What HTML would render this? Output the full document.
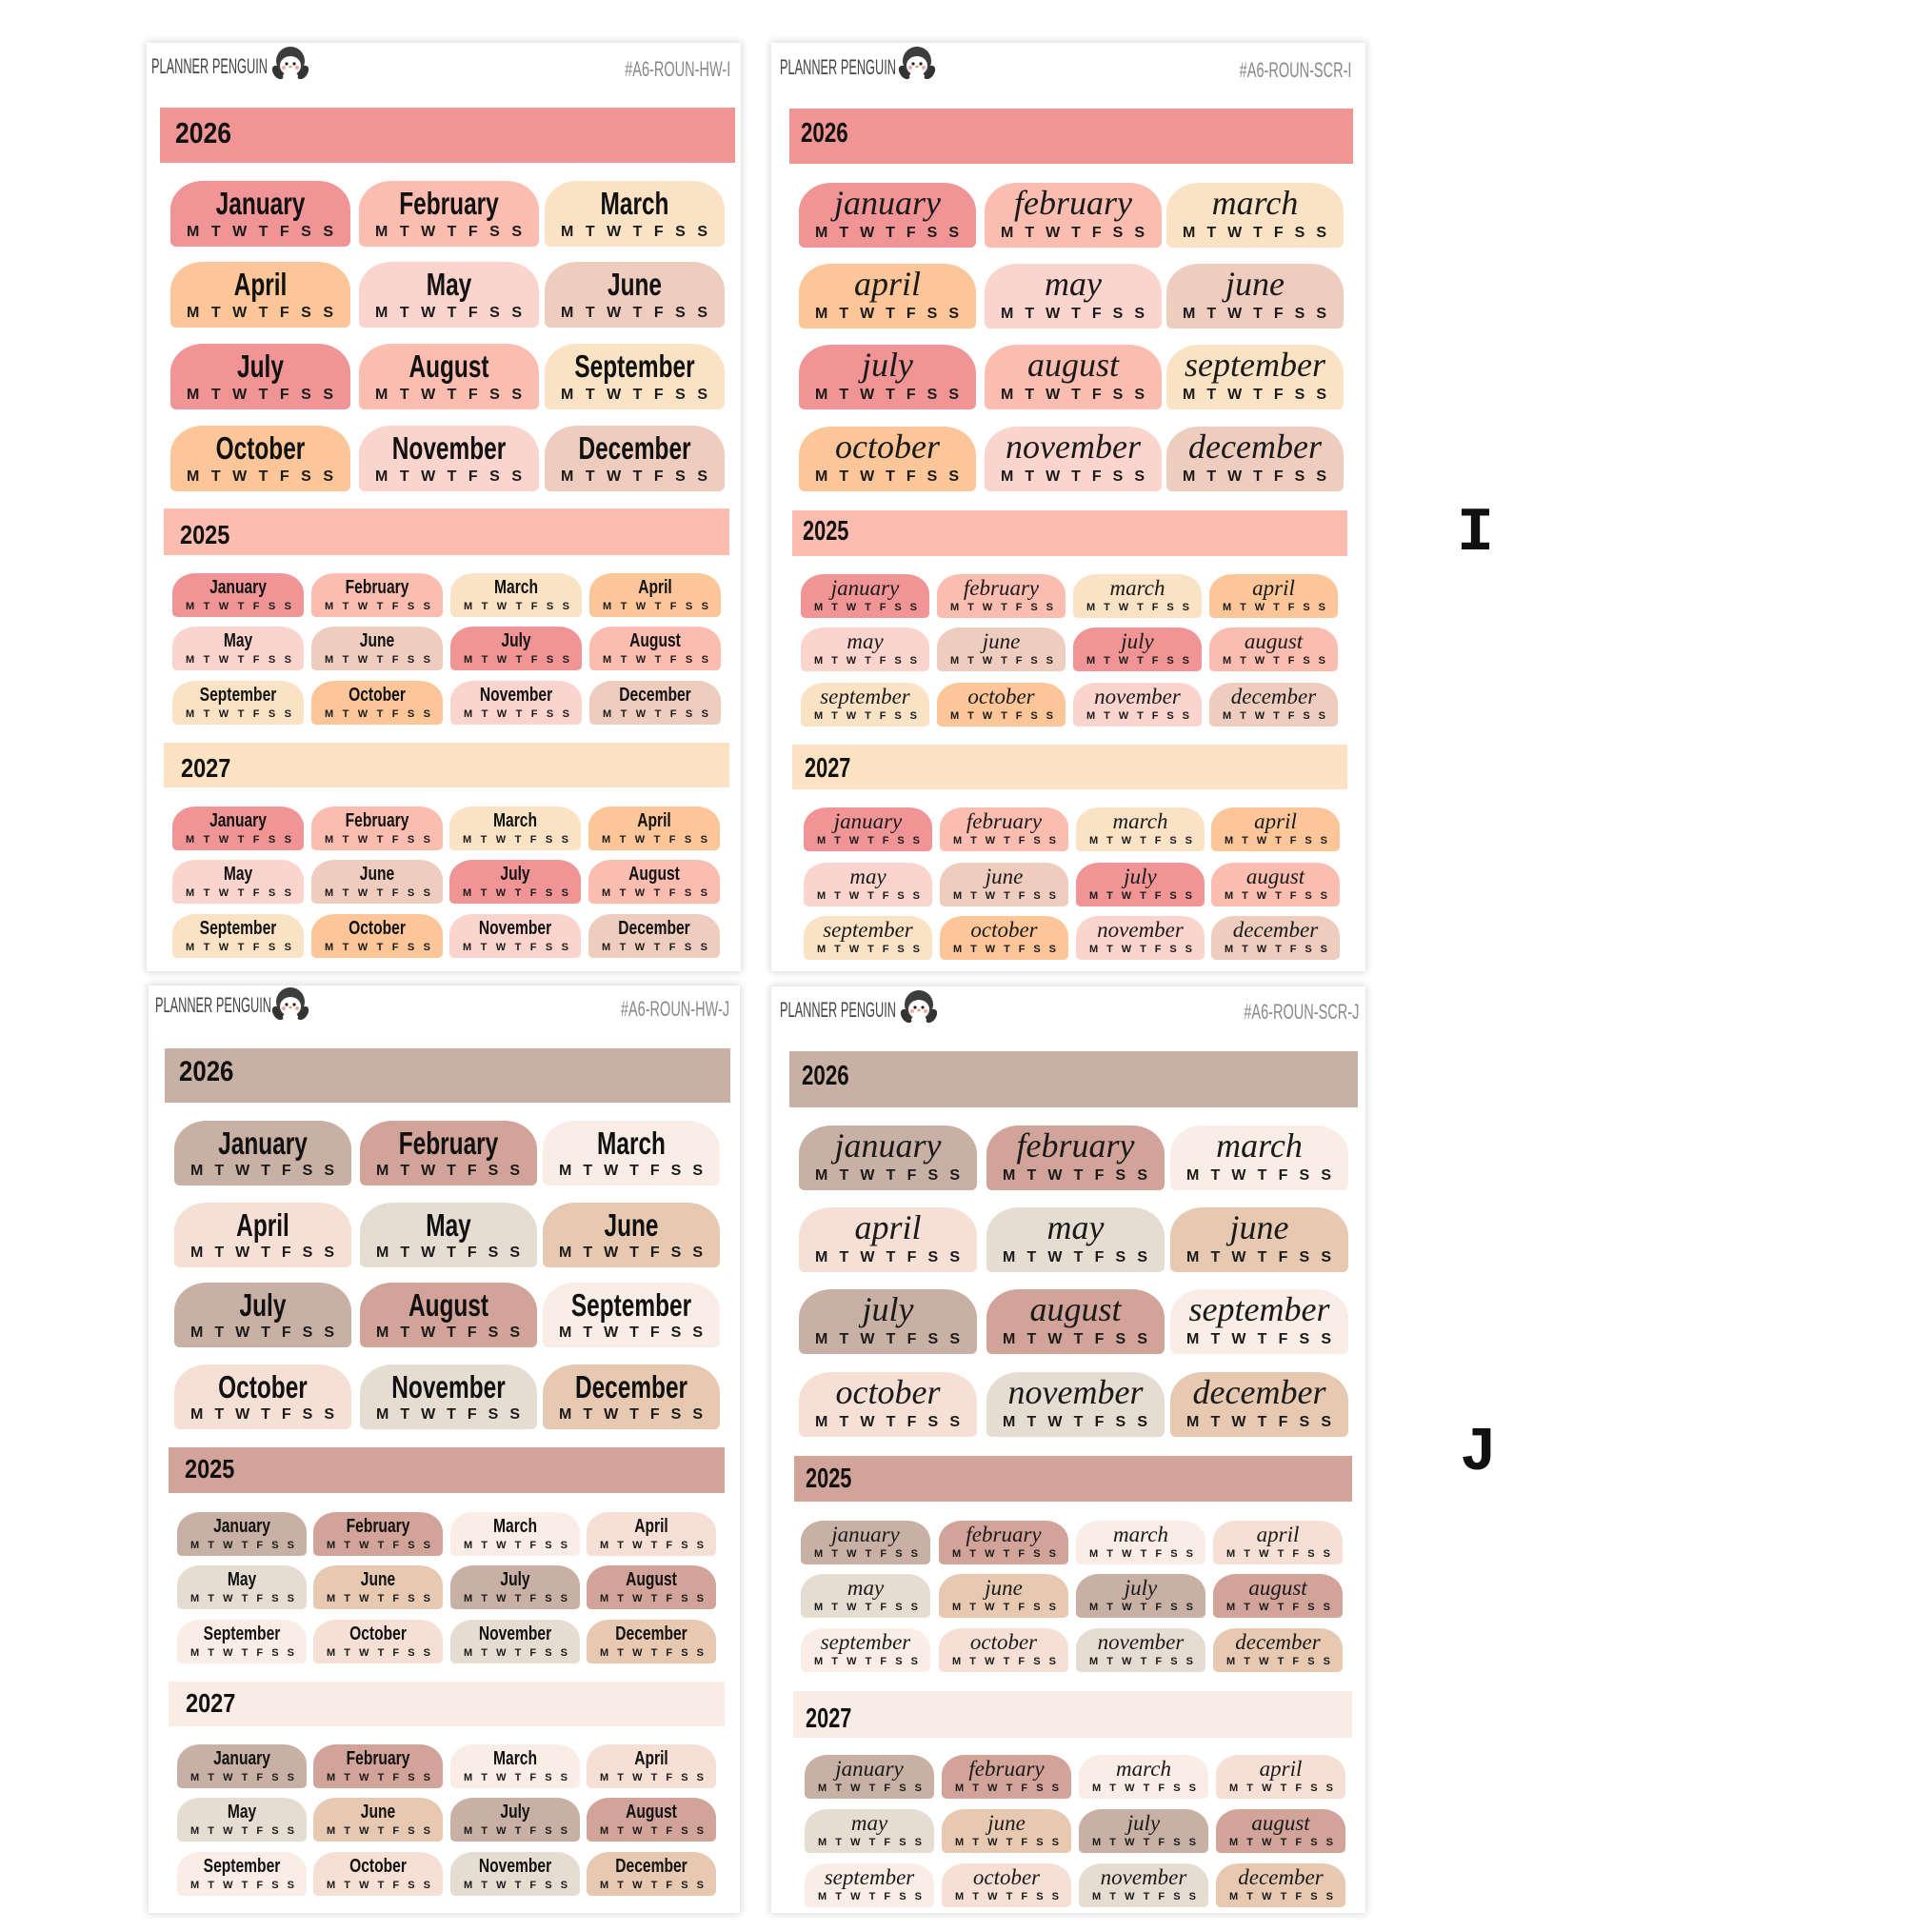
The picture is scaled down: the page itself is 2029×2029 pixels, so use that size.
<!DOCTYPE html>
<html><head><meta charset="utf-8">
<style>
*{box-sizing:border-box}
body{margin:0;width:2029px;height:2029px;background:#fff;position:relative;overflow:hidden;font-family:"Liberation Sans",sans-serif}
.p{position:absolute;background:#fff;box-shadow:0 0 8px 1px rgba(0,0,0,.16)}
.g{position:absolute;left:0;top:0}
.B,.S,.bn{position:absolute}
.B{border-radius:34px 34px 6px 6px/30px 30px 6px 6px}
.S{border-radius:24px 24px 5px 5px/21px 21px 5px 5px}
.B i,.S i{position:absolute;left:0;right:0;text-align:center;font-style:normal;white-space:nowrap;color:#111;font-weight:bold}
.B i{top:5px;font-size:33px;line-height:38px;transform:scaleX(.74)}
.S i{top:4px;font-size:20px;line-height:22px;transform:scaleX(.78)}
.s .B i{font-family:"Liberation Serif",serif;font-style:italic;font-weight:normal;transform:none;font-size:36px;top:2px;color:#1a1a1a}
.s .S i{font-family:"Liberation Serif",serif;font-style:italic;font-weight:normal;transform:none;font-size:23px;line-height:24px;top:3px;color:#1a1a1a}
.B u,.S u{position:absolute;text-decoration:none;text-align:justify;text-align-last:justify;font-weight:bold;color:#1a1a1a}
.B u{left:17px;right:18px;bottom:7px;font-size:16px;line-height:16px}
.S u{left:14px;right:13px;bottom:5px;font-size:11px;line-height:11px}
.bn span{position:absolute;line-height:1;color:#111;transform-origin:left top;white-space:nowrap;font-weight:bold}
.brand{position:absolute;font-size:22px;line-height:1;color:#444;transform:scaleX(.58);transform-origin:left top;white-space:nowrap}
.code{position:absolute;font-size:22px;line-height:1;color:#888;transform:scaleX(.66);transform-origin:right top;white-space:nowrap}
.peng{position:absolute;width:40px;height:38px}
.let{position:absolute;font-family:"Liberation Mono",monospace;font-weight:bold;font-size:65px;line-height:1;color:#111}
.a1{background:#f09495}.a2{background:#fbbdb0}.a3{background:#fae3c4}.a4{background:#fcc698}.a5{background:#fbd4cd}.a6{background:#efcdbe}
.b1{background:#c8b1a4}.b2{background:#d2a398}.b3{background:#f9ede6}.b4{background:#f6e0d5}.b5{background:#e6ddd2}.b6{background:#e7c9b1}
.g1 .B{width:189px;height:69px}.g1 .S{width:138px;height:46px}
.g2 .B{width:186px;height:68px}.g2 .S{width:135px;height:46px}
.g3 .B{width:186px;height:68px}.g3 .S{width:136px;height:46px}
.g4 .B{width:187px;height:68px}.g4 .S{width:136px;height:46px}
</style></head><body>

<!-- panels -->
<div class="p" style="left:154px;top:45px;width:624px;height:975px"></div>
<div class="p" style="left:810px;top:45px;width:624px;height:975px"></div>
<div class="p" style="left:156px;top:1035px;width:621px;height:974px"></div>
<div class="p" style="left:810px;top:1036px;width:624px;height:973px"></div>

<!-- headers -->
<div class="brand" style="left:159px;top:59px">PLANNER PENGUIN</div>
<div class="code" style="right:1262px;top:62px">#A6-ROUN-HW-I</div>
<div class="brand" style="left:819px;top:60px">PLANNER PENGUIN</div>
<div class="code" style="right:610px;top:63px">#A6-ROUN-SCR-I</div>
<div class="brand" style="left:163px;top:1045px">PLANNER PENGUIN</div>
<div class="code" style="right:1263px;top:1049px">#A6-ROUN-HW-J</div>
<div class="brand" style="left:819px;top:1050px">PLANNER PENGUIN</div>
<div class="code" style="right:602px;top:1052px">#A6-ROUN-SCR-J</div>

<svg class="peng" style="left:285px;top:47px" viewBox="0 0 40 38"><ellipse cx="7" cy="29" rx="5" ry="8" fill="#333" transform="rotate(-35 7 29)"/><ellipse cx="33" cy="29" rx="5" ry="8" fill="#333" transform="rotate(35 33 29)"/><circle cx="20" cy="17" r="15" fill="#3d3d3d"/><ellipse cx="20" cy="22" rx="11" ry="10" fill="#fff"/><ellipse cx="20" cy="33" rx="8" ry="4" fill="#fff"/><circle cx="16" cy="20" r="1.6" fill="#222"/><circle cx="24" cy="20" r="1.6" fill="#222"/><circle cx="13" cy="24" r="2" fill="#f4a6a6"/><circle cx="27" cy="24" r="2" fill="#f4a6a6"/><ellipse cx="20" cy="23" rx="1.8" ry="1.2" fill="#e8a060"/></svg>
<svg class="peng" style="left:943px;top:47px" viewBox="0 0 40 38"><ellipse cx="7" cy="29" rx="5" ry="8" fill="#333" transform="rotate(-35 7 29)"/><ellipse cx="33" cy="29" rx="5" ry="8" fill="#333" transform="rotate(35 33 29)"/><circle cx="20" cy="17" r="15" fill="#3d3d3d"/><ellipse cx="20" cy="22" rx="11" ry="10" fill="#fff"/><ellipse cx="20" cy="33" rx="8" ry="4" fill="#fff"/><circle cx="16" cy="20" r="1.6" fill="#222"/><circle cx="24" cy="20" r="1.6" fill="#222"/><circle cx="13" cy="24" r="2" fill="#f4a6a6"/><circle cx="27" cy="24" r="2" fill="#f4a6a6"/><ellipse cx="20" cy="23" rx="1.8" ry="1.2" fill="#e8a060"/></svg>
<svg class="peng" style="left:285px;top:1035px" viewBox="0 0 40 38"><ellipse cx="7" cy="29" rx="5" ry="8" fill="#333" transform="rotate(-35 7 29)"/><ellipse cx="33" cy="29" rx="5" ry="8" fill="#333" transform="rotate(35 33 29)"/><circle cx="20" cy="17" r="15" fill="#3d3d3d"/><ellipse cx="20" cy="22" rx="11" ry="10" fill="#fff"/><ellipse cx="20" cy="33" rx="8" ry="4" fill="#fff"/><circle cx="16" cy="20" r="1.6" fill="#222"/><circle cx="24" cy="20" r="1.6" fill="#222"/><circle cx="13" cy="24" r="2" fill="#f4a6a6"/><circle cx="27" cy="24" r="2" fill="#f4a6a6"/><ellipse cx="20" cy="23" rx="1.8" ry="1.2" fill="#e8a060"/></svg>
<svg class="peng" style="left:945px;top:1038px" viewBox="0 0 40 38"><ellipse cx="7" cy="29" rx="5" ry="8" fill="#333" transform="rotate(-35 7 29)"/><ellipse cx="33" cy="29" rx="5" ry="8" fill="#333" transform="rotate(35 33 29)"/><circle cx="20" cy="17" r="15" fill="#3d3d3d"/><ellipse cx="20" cy="22" rx="11" ry="10" fill="#fff"/><ellipse cx="20" cy="33" rx="8" ry="4" fill="#fff"/><circle cx="16" cy="20" r="1.6" fill="#222"/><circle cx="24" cy="20" r="1.6" fill="#222"/><circle cx="13" cy="24" r="2" fill="#f4a6a6"/><circle cx="27" cy="24" r="2" fill="#f4a6a6"/><ellipse cx="20" cy="23" rx="1.8" ry="1.2" fill="#e8a060"/></svg>

<!-- banners -->
<div class="bn" style="left:168px;top:113px;width:604px;height:58px;background:#f09494"><span style="left:16px;top:11px;font-size:31px;transform:scaleX(.855)">2026</span></div>
<div class="bn" style="left:172px;top:534px;width:594px;height:49px;background:#fcbdb0"><span style="left:17px;top:14px;font-size:28px;transform:scaleX(.84)">2025</span></div>
<div class="bn" style="left:172px;top:780px;width:594px;height:47px;background:#fae2c2"><span style="left:18px;top:13px;font-size:28px;transform:scaleX(.84)">2027</span></div>

<div class="bn" style="left:829px;top:114px;width:592px;height:58px;background:#f09494"><span style="left:12px;top:12px;font-size:29px;transform:scaleX(.77)">2026</span></div>
<div class="bn" style="left:832px;top:536px;width:583px;height:48px;background:#fcbdb0"><span style="left:11px;top:8px;font-size:29px;transform:scaleX(.75)">2025</span></div>
<div class="bn" style="left:832px;top:782px;width:583px;height:47px;background:#fae2c2"><span style="left:13px;top:11px;font-size:29px;transform:scaleX(.75)">2027</span></div>

<div class="bn" style="left:173px;top:1101px;width:594px;height:57px;background:#c8b1a4"><span style="left:15px;top:10px;font-size:30px;transform:scaleX(.86)">2026</span></div>
<div class="bn" style="left:177px;top:1520px;width:584px;height:48px;background:#d2a398"><span style="left:17px;top:9px;font-size:28px;transform:scaleX(.84)">2025</span></div>
<div class="bn" style="left:177px;top:1766px;width:584px;height:47px;background:#f8ece5"><span style="left:18px;top:9px;font-size:28px;transform:scaleX(.84)">2027</span></div>

<div class="bn" style="left:829px;top:1104px;width:597px;height:59px;background:#c8b1a4"><span style="left:13px;top:12px;font-size:29px;transform:scaleX(.77)">2026</span></div>
<div class="bn" style="left:834px;top:1529px;width:586px;height:48px;background:#d2a398"><span style="left:12px;top:10px;font-size:29px;transform:scaleX(.75)">2025</span></div>
<div class="bn" style="left:833px;top:1776px;width:587px;height:49px;background:#f8ece5"><span style="left:13px;top:15px;font-size:29px;transform:scaleX(.75)">2027</span></div>

<!-- Panel 1: HW I -->
<div class="g g1">
<div class="B a1" style="left:179px;top:190px"><i>January</i><u>M T W T F S S</u></div>
<div class="B a2" style="left:377px;top:190px"><i>February</i><u>M T W T F S S</u></div>
<div class="B a3" style="left:572px;top:190px"><i>March</i><u>M T W T F S S</u></div>
<div class="B a4" style="left:179px;top:275px"><i>April</i><u>M T W T F S S</u></div>
<div class="B a5" style="left:377px;top:275px"><i>May</i><u>M T W T F S S</u></div>
<div class="B a6" style="left:572px;top:275px"><i>June</i><u>M T W T F S S</u></div>
<div class="B a1" style="left:179px;top:361px"><i>July</i><u>M T W T F S S</u></div>
<div class="B a2" style="left:377px;top:361px"><i>August</i><u>M T W T F S S</u></div>
<div class="B a3" style="left:572px;top:361px"><i>September</i><u>M T W T F S S</u></div>
<div class="B a4" style="left:179px;top:447px"><i>October</i><u>M T W T F S S</u></div>
<div class="B a5" style="left:377px;top:447px"><i>November</i><u>M T W T F S S</u></div>
<div class="B a6" style="left:572px;top:447px"><i>December</i><u>M T W T F S S</u></div>

<div class="S a1" style="left:181px;top:602px"><i>January</i><u>M T W T F S S</u></div>
<div class="S a2" style="left:327px;top:602px"><i>February</i><u>M T W T F S S</u></div>
<div class="S a3" style="left:473px;top:602px"><i>March</i><u>M T W T F S S</u></div>
<div class="S a4" style="left:619px;top:602px"><i>April</i><u>M T W T F S S</u></div>
<div class="S a5" style="left:181px;top:658px"><i>May</i><u>M T W T F S S</u></div>
<div class="S a6" style="left:327px;top:658px"><i>June</i><u>M T W T F S S</u></div>
<div class="S a1" style="left:473px;top:658px"><i>July</i><u>M T W T F S S</u></div>
<div class="S a2" style="left:619px;top:658px"><i>August</i><u>M T W T F S S</u></div>
<div class="S a3" style="left:181px;top:715px"><i>September</i><u>M T W T F S S</u></div>
<div class="S a4" style="left:327px;top:715px"><i>October</i><u>M T W T F S S</u></div>
<div class="S a5" style="left:473px;top:715px"><i>November</i><u>M T W T F S S</u></div>
<div class="S a6" style="left:619px;top:715px"><i>December</i><u>M T W T F S S</u></div>

<div class="S a1" style="left:181px;top:847px"><i>January</i><u>M T W T F S S</u></div>
<div class="S a2" style="left:327px;top:847px"><i>February</i><u>M T W T F S S</u></div>
<div class="S a3" style="left:472px;top:847px"><i>March</i><u>M T W T F S S</u></div>
<div class="S a4" style="left:618px;top:847px"><i>April</i><u>M T W T F S S</u></div>
<div class="S a5" style="left:181px;top:903px"><i>May</i><u>M T W T F S S</u></div>
<div class="S a6" style="left:327px;top:903px"><i>June</i><u>M T W T F S S</u></div>
<div class="S a1" style="left:472px;top:903px"><i>July</i><u>M T W T F S S</u></div>
<div class="S a2" style="left:618px;top:903px"><i>August</i><u>M T W T F S S</u></div>
<div class="S a3" style="left:181px;top:960px"><i>September</i><u>M T W T F S S</u></div>
<div class="S a4" style="left:327px;top:960px"><i>October</i><u>M T W T F S S</u></div>
<div class="S a5" style="left:472px;top:960px"><i>November</i><u>M T W T F S S</u></div>
<div class="S a6" style="left:618px;top:960px"><i>December</i><u>M T W T F S S</u></div>
</div>

<!-- Panel 2: SCR I -->
<div class="g g2 s">
<div class="B a1" style="left:839px;top:192px"><i>january</i><u>M T W T F S S</u></div>
<div class="B a2" style="left:1034px;top:192px"><i>february</i><u>M T W T F S S</u></div>
<div class="B a3" style="left:1225px;top:192px"><i>march</i><u>M T W T F S S</u></div>
<div class="B a4" style="left:839px;top:277px"><i>april</i><u>M T W T F S S</u></div>
<div class="B a5" style="left:1034px;top:277px"><i>may</i><u>M T W T F S S</u></div>
<div class="B a6" style="left:1225px;top:277px"><i>june</i><u>M T W T F S S</u></div>
<div class="B a1" style="left:839px;top:362px"><i>july</i><u>M T W T F S S</u></div>
<div class="B a2" style="left:1034px;top:362px"><i>august</i><u>M T W T F S S</u></div>
<div class="B a3" style="left:1225px;top:362px"><i>september</i><u>M T W T F S S</u></div>
<div class="B a4" style="left:839px;top:448px"><i>october</i><u>M T W T F S S</u></div>
<div class="B a5" style="left:1034px;top:448px"><i>november</i><u>M T W T F S S</u></div>
<div class="B a6" style="left:1225px;top:448px"><i>december</i><u>M T W T F S S</u></div>

<div class="S a1" style="left:841px;top:603px"><i>january</i><u>M T W T F S S</u></div>
<div class="S a2" style="left:984px;top:603px"><i>february</i><u>M T W T F S S</u></div>
<div class="S a3" style="left:1127px;top:603px"><i>march</i><u>M T W T F S S</u></div>
<div class="S a4" style="left:1270px;top:603px"><i>april</i><u>M T W T F S S</u></div>
<div class="S a5" style="left:841px;top:659px"><i>may</i><u>M T W T F S S</u></div>
<div class="S a6" style="left:984px;top:659px"><i>june</i><u>M T W T F S S</u></div>
<div class="S a1" style="left:1127px;top:659px"><i>july</i><u>M T W T F S S</u></div>
<div class="S a2" style="left:1270px;top:659px"><i>august</i><u>M T W T F S S</u></div>
<div class="S a3" style="left:841px;top:717px"><i>september</i><u>M T W T F S S</u></div>
<div class="S a4" style="left:984px;top:717px"><i>october</i><u>M T W T F S S</u></div>
<div class="S a5" style="left:1127px;top:717px"><i>november</i><u>M T W T F S S</u></div>
<div class="S a6" style="left:1270px;top:717px"><i>december</i><u>M T W T F S S</u></div>

<div class="S a1" style="left:844px;top:848px"><i>january</i><u>M T W T F S S</u></div>
<div class="S a2" style="left:987px;top:848px"><i>february</i><u>M T W T F S S</u></div>
<div class="S a3" style="left:1130px;top:848px"><i>march</i><u>M T W T F S S</u></div>
<div class="S a4" style="left:1272px;top:848px"><i>april</i><u>M T W T F S S</u></div>
<div class="S a5" style="left:844px;top:906px"><i>may</i><u>M T W T F S S</u></div>
<div class="S a6" style="left:987px;top:906px"><i>june</i><u>M T W T F S S</u></div>
<div class="S a1" style="left:1130px;top:906px"><i>july</i><u>M T W T F S S</u></div>
<div class="S a2" style="left:1272px;top:906px"><i>august</i><u>M T W T F S S</u></div>
<div class="S a3" style="left:844px;top:962px"><i>september</i><u>M T W T F S S</u></div>
<div class="S a4" style="left:987px;top:962px"><i>october</i><u>M T W T F S S</u></div>
<div class="S a5" style="left:1130px;top:962px"><i>november</i><u>M T W T F S S</u></div>
<div class="S a6" style="left:1272px;top:962px"><i>december</i><u>M T W T F S S</u></div>
</div>

<!-- Panel 3: HW J -->
<div class="g g3">
<div class="B b1" style="left:183px;top:1177px"><i>January</i><u>M T W T F S S</u></div>
<div class="B b2" style="left:378px;top:1177px"><i>February</i><u>M T W T F S S</u></div>
<div class="B b3" style="left:570px;top:1177px"><i>March</i><u>M T W T F S S</u></div>
<div class="B b4" style="left:183px;top:1263px"><i>April</i><u>M T W T F S S</u></div>
<div class="B b5" style="left:378px;top:1263px"><i>May</i><u>M T W T F S S</u></div>
<div class="B b6" style="left:570px;top:1263px"><i>June</i><u>M T W T F S S</u></div>
<div class="B b1" style="left:183px;top:1347px"><i>July</i><u>M T W T F S S</u></div>
<div class="B b2" style="left:378px;top:1347px"><i>August</i><u>M T W T F S S</u></div>
<div class="B b3" style="left:570px;top:1347px"><i>September</i><u>M T W T F S S</u></div>
<div class="B b4" style="left:183px;top:1433px"><i>October</i><u>M T W T F S S</u></div>
<div class="B b5" style="left:378px;top:1433px"><i>November</i><u>M T W T F S S</u></div>
<div class="B b6" style="left:570px;top:1433px"><i>December</i><u>M T W T F S S</u></div>

<div class="S b1" style="left:186px;top:1588px"><i>January</i><u>M T W T F S S</u></div>
<div class="S b2" style="left:329px;top:1588px"><i>February</i><u>M T W T F S S</u></div>
<div class="S b3" style="left:473px;top:1588px"><i>March</i><u>M T W T F S S</u></div>
<div class="S b4" style="left:616px;top:1588px"><i>April</i><u>M T W T F S S</u></div>
<div class="S b5" style="left:186px;top:1644px"><i>May</i><u>M T W T F S S</u></div>
<div class="S b6" style="left:329px;top:1644px"><i>June</i><u>M T W T F S S</u></div>
<div class="S b1" style="left:473px;top:1644px"><i>July</i><u>M T W T F S S</u></div>
<div class="S b2" style="left:616px;top:1644px"><i>August</i><u>M T W T F S S</u></div>
<div class="S b3" style="left:186px;top:1701px"><i>September</i><u>M T W T F S S</u></div>
<div class="S b4" style="left:329px;top:1701px"><i>October</i><u>M T W T F S S</u></div>
<div class="S b5" style="left:473px;top:1701px"><i>November</i><u>M T W T F S S</u></div>
<div class="S b6" style="left:616px;top:1701px"><i>December</i><u>M T W T F S S</u></div>

<div class="S b1" style="left:186px;top:1832px"><i>January</i><u>M T W T F S S</u></div>
<div class="S b2" style="left:329px;top:1832px"><i>February</i><u>M T W T F S S</u></div>
<div class="S b3" style="left:473px;top:1832px"><i>March</i><u>M T W T F S S</u></div>
<div class="S b4" style="left:616px;top:1832px"><i>April</i><u>M T W T F S S</u></div>
<div class="S b5" style="left:186px;top:1888px"><i>May</i><u>M T W T F S S</u></div>
<div class="S b6" style="left:329px;top:1888px"><i>June</i><u>M T W T F S S</u></div>
<div class="S b1" style="left:473px;top:1888px"><i>July</i><u>M T W T F S S</u></div>
<div class="S b2" style="left:616px;top:1888px"><i>August</i><u>M T W T F S S</u></div>
<div class="S b3" style="left:186px;top:1945px"><i>September</i><u>M T W T F S S</u></div>
<div class="S b4" style="left:329px;top:1945px"><i>October</i><u>M T W T F S S</u></div>
<div class="S b5" style="left:473px;top:1945px"><i>November</i><u>M T W T F S S</u></div>
<div class="S b6" style="left:616px;top:1945px"><i>December</i><u>M T W T F S S</u></div>
</div>

<!-- Panel 4: SCR J -->
<div class="g g4 s">
<div class="B b1" style="left:839px;top:1182px"><i>january</i><u>M T W T F S S</u></div>
<div class="B b2" style="left:1036px;top:1182px"><i>february</i><u>M T W T F S S</u></div>
<div class="B b3" style="left:1229px;top:1182px"><i>march</i><u>M T W T F S S</u></div>
<div class="B b4" style="left:839px;top:1268px"><i>april</i><u>M T W T F S S</u></div>
<div class="B b5" style="left:1036px;top:1268px"><i>may</i><u>M T W T F S S</u></div>
<div class="B b6" style="left:1229px;top:1268px"><i>june</i><u>M T W T F S S</u></div>
<div class="B b1" style="left:839px;top:1354px"><i>july</i><u>M T W T F S S</u></div>
<div class="B b2" style="left:1036px;top:1354px"><i>august</i><u>M T W T F S S</u></div>
<div class="B b3" style="left:1229px;top:1354px"><i>september</i><u>M T W T F S S</u></div>
<div class="B b4" style="left:839px;top:1441px"><i>october</i><u>M T W T F S S</u></div>
<div class="B b5" style="left:1036px;top:1441px"><i>november</i><u>M T W T F S S</u></div>
<div class="B b6" style="left:1229px;top:1441px"><i>december</i><u>M T W T F S S</u></div>

<div class="S b1" style="left:841px;top:1597px"><i>january</i><u>M T W T F S S</u></div>
<div class="S b2" style="left:986px;top:1597px"><i>february</i><u>M T W T F S S</u></div>
<div class="S b3" style="left:1130px;top:1597px"><i>march</i><u>M T W T F S S</u></div>
<div class="S b4" style="left:1274px;top:1597px"><i>april</i><u>M T W T F S S</u></div>
<div class="S b5" style="left:841px;top:1653px"><i>may</i><u>M T W T F S S</u></div>
<div class="S b6" style="left:986px;top:1653px"><i>june</i><u>M T W T F S S</u></div>
<div class="S b1" style="left:1130px;top:1653px"><i>july</i><u>M T W T F S S</u></div>
<div class="S b2" style="left:1274px;top:1653px"><i>august</i><u>M T W T F S S</u></div>
<div class="S b3" style="left:841px;top:1710px"><i>september</i><u>M T W T F S S</u></div>
<div class="S b4" style="left:986px;top:1710px"><i>october</i><u>M T W T F S S</u></div>
<div class="S b5" style="left:1130px;top:1710px"><i>november</i><u>M T W T F S S</u></div>
<div class="S b6" style="left:1274px;top:1710px"><i>december</i><u>M T W T F S S</u></div>

<div class="S b1" style="left:845px;top:1843px"><i>january</i><u>M T W T F S S</u></div>
<div class="S b2" style="left:989px;top:1843px"><i>february</i><u>M T W T F S S</u></div>
<div class="S b3" style="left:1133px;top:1843px"><i>march</i><u>M T W T F S S</u></div>
<div class="S b4" style="left:1277px;top:1843px"><i>april</i><u>M T W T F S S</u></div>
<div class="S b5" style="left:845px;top:1900px"><i>may</i><u>M T W T F S S</u></div>
<div class="S b6" style="left:989px;top:1900px"><i>june</i><u>M T W T F S S</u></div>
<div class="S b1" style="left:1133px;top:1900px"><i>july</i><u>M T W T F S S</u></div>
<div class="S b2" style="left:1277px;top:1900px"><i>august</i><u>M T W T F S S</u></div>
<div class="S b3" style="left:845px;top:1957px"><i>september</i><u>M T W T F S S</u></div>
<div class="S b4" style="left:989px;top:1957px"><i>october</i><u>M T W T F S S</u></div>
<div class="S b5" style="left:1133px;top:1957px"><i>november</i><u>M T W T F S S</u></div>
<div class="S b6" style="left:1277px;top:1957px"><i>december</i><u>M T W T F S S</u></div>
</div>

<!-- I / J labels -->
<div class="let" style="left:1530px;top:528px">I</div>
<div class="let" style="left:1533px;top:1494px">J</div>

</body></html>
